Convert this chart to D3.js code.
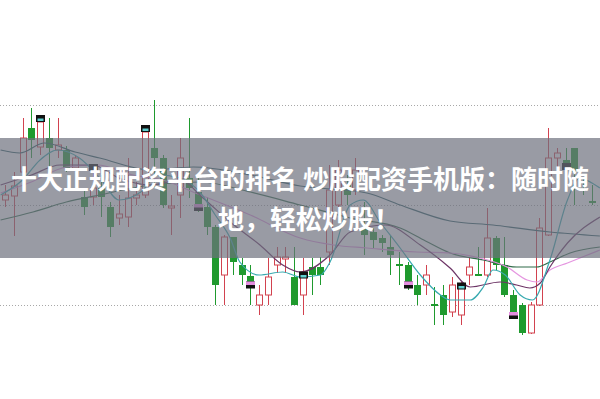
<!DOCTYPE html>
<html><head><meta charset="utf-8">
<script src="https://cdn.jsdelivr.net/npm/d3@7"></script>
<style>html,body{margin:0;padding:0;background:#fff;overflow:hidden}svg{display:block}</style>
</head><body>
<svg id="chart" width="600" height="399"></svg>
<script>
// ---- data ----
const openP = [11.05,11.09,11.33,11.77,11.58,11.67,11.55,11.55,11.37,11.08, 11.08,11.17,10.98,10.87,10.88,11.07,11.10,11.57,11.47,10.97, 11.10,11.27,11.13,10.98,10.78,10.30,10.68,10.40,10.29,10.00, 10.10,10.40,10.46,10.28,10.10,10.38,10.38,10.53,11.00,11.20, 11.15,10.77,10.73,10.67,10.58,10.41,10.40,10.20,10.20,10.01, 10.10,9.93,9.90,10.30,10.31,10.30,10.67,10.40,10.10,10.00, 9.72,10.00,10.70,11.47,11.45,11.57,11.24,11.04];
const closeP = [11.10,11.19,11.67,11.65,11.83,11.57,11.60,11.37,11.47,10.98, 11.17,11.08,10.78,10.91,11.07,11.10,11.73,11.47,11.00,10.99, 11.47,11.17,11.00,10.78,10.20,10.68,10.43,10.30,10.23,10.10, 10.28,10.48,10.48,10.00,10.33,10.30,10.30,11.15,11.35,11.10, 11.35,10.70,10.65,10.62,10.50,10.39,10.23,10.10,10.30,9.99, 9.90,10.20,10.17,10.38,10.29,10.67,10.40,10.10,9.92,9.72, 10.00,10.77,11.47,11.52,11.39,11.33,11.22,11.02];
const highP = [11.20,11.33,11.87,11.97,11.90,11.87,11.87,11.59,11.50,11.15, 11.37,11.30,11.03,11.10,11.47,11.23,11.80,12.05,11.50,11.10, 11.67,11.87,11.27,11.08,10.80,10.70,10.68,10.47,10.40,10.20, 10.47,10.58,10.58,10.58,10.47,10.47,10.48,11.40,11.45,11.30, 11.47,11.03,10.77,10.70,10.70,10.53,10.43,10.30,10.40,10.18, 10.20,10.28,10.23,10.48,10.58,10.97,10.69,10.68,10.15,10.02, 10.03,10.87,11.77,11.57,11.57,11.57,11.27,11.20];
const lowP = [10.98,10.69,11.20,11.47,11.50,11.23,11.47,11.33,11.33,10.90, 11.00,10.88,10.68,10.80,10.78,11.00,11.07,11.17,10.97,10.70, 10.87,11.07,10.93,10.70,10.00,10.00,10.30,10.20,10.00,9.90, 10.00,10.32,10.32,10.00,9.90,10.10,10.20,10.40,10.90,11.00, 11.10,10.50,10.57,10.53,10.30,10.20,10.15,10.00,10.10,9.80, 9.80,9.88,9.80,10.20,10.29,10.28,10.35,10.08,9.87,9.70, 9.71,9.99,10.69,11.37,11.17,11.00,11.10,11.00];

const markerIdx  = [4, 10, 16, 22, 28, 34, 46, 52, 58, 64];
const markerVal  = [11.865, 11.375, 11.765, 10.975, 10.20, 10.30, 10.20, 10.19, 9.895, 11.385];
const markerKind = ["up","dark","up","down","down","up","down","up","down","dark"];

const gridTicks = [10, 11, 12];

const ma5Idx = [-0.5,2,4,6,8.5,11,13,15.5,17.5,20,22.5,24,25.7,26.8,29,31.7,33.7,36,37.1,39.4,40.9,42.8,45.1,47.4,49.7,50.8,53.1,54.6,55.7,57.1,58.8,60.2,62.2,64.2,65.6,67,67.9];
const ma5Val = [11.10,11.25,11.45,11.55,11.47,11.25,11.05,11.13,11.30,11.27,11.10,10.90,10.67,10.43,10.30,10.33,10.28,10.30,10.43,11.00,11.05,10.83,10.57,10.30,10.10,10.05,10.05,10.18,10.35,10.30,10.10,10.05,10.45,11.05,11.27,11.22,11.17];

const ma10Idx = [-0.5,3,6.3,10,13,16.6,20,22.6,25.7,29.1,31.7,33.7,37.1,39.4,43.4,47.4,50.8,53.1,56.5,58.4,59.9,61.1,62.2,64.2,67.9];
const ma10Val = [11.20,11.30,11.40,11.40,11.27,11.20,11.25,11.07,10.83,10.60,10.40,10.33,10.50,10.73,10.80,10.60,10.37,10.18,10.23,10.20,10.17,10.22,10.38,10.62,10.88];

const ma20Idx = [-0.5,3,7,10.5,14.6,18,22.3,28,33.7,37.5,41.3,47,50.8,54.2,57.3,59.6,60.7,62.2,64.2,67.9];
const ma20Val = [11.12,11.23,11.38,11.40,11.30,11.25,11.10,10.90,10.67,10.60,10.57,10.53,10.52,10.47,10.38,10.25,10.23,10.35,10.42,10.55];

const ma30Idx = [-0.5,3.2,7,10.8,16.6,22.3,28,33.7,39.4,45.1,48,50.8,54.6,58.4,60.7,62.2,64.5,67.9];
const ma30Val = [10.85,10.93,11.03,11.10,11.20,11.23,11.13,11.00,10.87,10.77,10.64,10.52,10.45,10.38,10.38,10.43,10.52,10.58];

const ma60Idx = [-0.5,1.7,4.5,8,10.8,16.6,21.5,28,33.7,41.3,45.1,50.8,55.7,62.2,67.9];
const ma60Val = [11.55,11.52,11.62,11.53,11.47,11.35,11.38,11.30,11.19,11.12,11.00,10.84,10.80,10.73,10.69];

const titleLines = ["十大正规配资平台的排名 炒股配资手机版：随时随", "地，轻松炒股！"];

// ---- drawing ----
const svg = d3.select("#chart");
const W = 600, H = 399;
svg.append("rect").attr("width", W).attr("height", H).attr("fill", "#fff");

const x = d3.scaleLinear().domain([0, 67]).range([5, 592]);
const y = d3.scaleLinear().domain([10, 12]).range([305, 105]);

const UP = "#d2424f", DOWN = "#1f9a2e";

// grid
svg.append("g").selectAll("line").data(gridTicks).join("line")
  .attr("x1", 0).attr("x2", W)
  .attr("y1", d => Math.round(y(d)) + 0.5).attr("y2", d => Math.round(y(d)) + 0.5)
  .attr("stroke", "#a8a8a8").attr("stroke-width", 1).attr("stroke-dasharray", "1,2");

const candles = openP.map((o, i) => ({i, o, c: closeP[i], h: highP[i], l: lowP[i]}));
const bw = 6;
const cg = svg.append("g");
candles.forEach(d => {
  const cx = Math.round(x(d.i)) + 0.5;
  const up = d.c >= d.o;
  const col = up ? UP : DOWN;
  const top = y(Math.max(d.o, d.c)), bot = y(Math.min(d.o, d.c));
  const bh = Math.max(1, bot - top);
  if (up) {
    cg.append("line").attr("x1", cx).attr("x2", cx).attr("y1", y(d.h)).attr("y2", top).attr("stroke", col);
    cg.append("line").attr("x1", cx).attr("x2", cx).attr("y1", top + bh).attr("y2", y(d.l)).attr("stroke", col);
    cg.append("rect").attr("x", cx - bw/2).attr("y", top).attr("width", bw).attr("height", bh)
      .attr("fill", "#fff").attr("stroke", col).attr("stroke-width", 1);
  } else {
    cg.append("line").attr("x1", cx).attr("x2", cx).attr("y1", y(d.h)).attr("y2", y(d.l)).attr("stroke", col);
    cg.append("rect").attr("x", cx - bw/2 - 0.5).attr("y", top).attr("width", bw + 1).attr("height", bh)
      .attr("fill", col);
  }
});

// moving average lines
const lineGen = d3.line().x(d => x(d[0])).y(d => y(d[1])).curve(d3.curveMonotoneX);
const mas = [
  {idx: ma60Idx, val: ma60Val, col: "#2c5d63"},
  {idx: ma30Idx, val: ma30Val, col: "#2f6a48"},
  {idx: ma20Idx, val: ma20Val, col: "#e596e0"},
  {idx: ma10Idx, val: ma10Val, col: "#6d3566"},
  {idx: ma5Idx,  val: ma5Val,  col: "#38aab0"}
];
svg.append("g").selectAll("path").data(mas).join("path")
  .attr("d", m => lineGen(m.idx.map((k, j) => [k, m.val[j]])))
  .attr("fill", "none").attr("stroke", m => m.col).attr("stroke-width", 1.2);

// markers
const mg = svg.append("g");
markerIdx.forEach((k, j) => {
  const cx = Math.round(x(k)) + 0.5, cy = y(markerVal[j]);
  const kind = markerKind[j];
  mg.append("rect").attr("x", cx - 4.5).attr("y", cy - 3.5).attr("width", 9).attr("height", 7).attr("fill", "#111");
  if (kind === "up") {
    mg.append("rect").attr("x", cx - 3).attr("y", cy).attr("width", 6).attr("height", 2.5).attr("fill", "#5fd0d0");
  } else if (kind === "down") {
    mg.append("rect").attr("x", cx - 4.5).attr("y", cy - 3.5).attr("width", 9).attr("height", 3.5).attr("fill", "#e58ee0");
  }
});

// banner overlay
svg.append("rect").attr("x", 0).attr("y", 138).attr("width", W).attr("height", 120)
  .attr("fill", "rgb(109,113,126)").attr("fill-opacity", 0.7);

const tg = svg.append("g")
  .attr("font-family", "'Noto Sans CJK SC', 'Noto Sans', sans-serif")
  .attr("font-weight", "bold").attr("font-size", 26).attr("fill", "#fff");
tg.append("text").attr("x", 300).attr("y", 189).attr("text-anchor", "middle").text(titleLines[0]);
tg.append("text").attr("x", 309).attr("y", 229).attr("text-anchor", "middle").text(titleLines[1]);
</script>
</body></html>
